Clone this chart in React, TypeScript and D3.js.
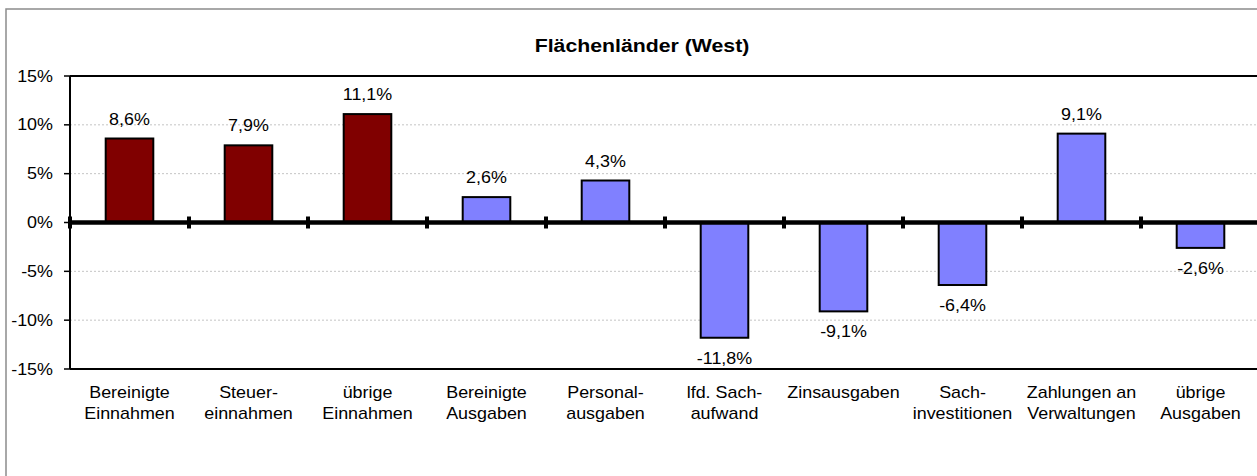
import { useEffect, useRef } from "react";
import * as d3 from "d3";

const categories = [
  "Bereinigte\nEinnahmen",
  "Steuer-\neinnahmen",
  "übrige\nEinnahmen",
  "Bereinigte\nAusgaben",
  "Personal-\nausgaben",
  "lfd. Sach-\naufwand",
  "Zinsausgaben",
  "Sach-\ninvestitionen",
  "Zahlungen an\nVerwaltungen",
  "übrige\nAusgaben",
];
const values = [8.6, 7.9, 11.1, 2.6, 4.3, -11.8, -9.1, -6.4, 9.1, -2.6];
const isRevenue = [true, true, true, false, false, false, false, false, false, false];
const yTicks = [15, 10, 5, 0, -5, -10, -15];
const title = "Flächenländer (West)";

const W = 1257;
const H = 476;
const FONT = "'Liberation Sans', Arial, sans-serif";
const SX = 1.12; // the original export is a bit stretched horizontally

export default function App() {
  const svgRef = useRef<SVGSVGElement | null>(null);

  useEffect(() => {
    const svg = d3.select(svgRef.current);
    svg.selectAll("*").remove();

    const left = 70;
    const step = 119;
    const x = d3
      .scaleBand()
      .domain(categories)
      .range([left, left + step * categories.length])
      .paddingInner(0.6)
      .paddingOuter(0.3);
    const y = d3.scaleLinear().domain([-15, 15]).range([369, 76]);
    const fmt = (v: number) => String(v).replace(".", ",") + "%";

    // outer chart frame (cut off on the right and bottom)
    svg
      .append("rect")
      .attr("x", 6)
      .attr("y", 9)
      .attr("width", W + 20)
      .attr("height", H + 20)
      .attr("fill", "white")
      .attr("stroke", "#8c8c8c")
      .attr("stroke-width", 1.5);

    svg
      .append("text")
      .attr("transform", `translate(642,52) scale(${SX},1)`)
      .attr("text-anchor", "middle")
      .attr("font-family", FONT)
      .attr("font-size", 19)
      .attr("font-weight", "bold")
      .text(title);

    // gridlines
    svg
      .append("g")
      .selectAll("line")
      .data(yTicks.filter((t) => t !== 0 && Math.abs(t) !== 15))
      .join("line")
      .attr("x1", left)
      .attr("x2", W + 10)
      .attr("y1", (d) => y(d))
      .attr("y2", (d) => y(d))
      .attr("stroke", "#c4c4c4")
      .attr("stroke-width", 1)
      .attr("stroke-dasharray", "2,2");

    // plot frame top/bottom and y axis
    svg
      .append("g")
      .selectAll("line")
      .data([15, -15])
      .join("line")
      .attr("x1", left)
      .attr("x2", W + 10)
      .attr("y1", (d) => y(d))
      .attr("y2", (d) => y(d))
      .attr("stroke", "black")
      .attr("stroke-width", 2);

    const yAxis = svg.append("g");
    yAxis
      .append("line")
      .attr("x1", left)
      .attr("x2", left)
      .attr("y1", y(15))
      .attr("y2", y(-15))
      .attr("stroke", "black")
      .attr("stroke-width", 2);
    yAxis
      .selectAll("line.tick")
      .data(yTicks)
      .join("line")
      .attr("class", "tick")
      .attr("x1", left - 6)
      .attr("x2", left)
      .attr("y1", (d) => y(d))
      .attr("y2", (d) => y(d))
      .attr("stroke", "black")
      .attr("stroke-width", 1.5);
    yAxis
      .selectAll("text")
      .data(yTicks)
      .join("text")
      .attr("transform", (d) => `translate(53,${y(d) + 5.5}) scale(${SX},1)`)
      .attr("text-anchor", "end")
      .attr("font-family", FONT)
      .attr("font-size", 16)
      .text((d) => d + "%");

    // bars
    svg
      .append("g")
      .selectAll("rect")
      .data(values)
      .join("rect")
      .attr("x", (_, i) => x(categories[i])!)
      .attr("width", x.bandwidth())
      .attr("y", (d) => y(Math.max(0, d)))
      .attr("height", (d) => Math.abs(y(d) - y(0)))
      .attr("fill", (_, i) => (isRevenue[i] ? "#800000" : "#8080ff"))
      .attr("stroke", "black")
      .attr("stroke-width", 2);

    // value labels
    svg
      .append("g")
      .selectAll("text")
      .data(values)
      .join("text")
      .attr("transform", (d, i) => {
        const cx = x(categories[i])! + x.bandwidth() / 2;
        const ty = d >= 0 ? y(d) - 14 : y(d) + 26;
        return `translate(${cx},${ty}) scale(${SX},1)`;
      })
      .attr("text-anchor", "middle")
      .attr("font-family", FONT)
      .attr("font-size", 16)
      .text((d) => fmt(d));

    // zero axis with cross ticks between categories
    const zero = svg.append("g");
    zero
      .append("line")
      .attr("x1", left)
      .attr("x2", W + 10)
      .attr("y1", y(0))
      .attr("y2", y(0))
      .attr("stroke", "black")
      .attr("stroke-width", 4.5);
    zero
      .selectAll("line.tick")
      .data(d3.range(categories.length + 1))
      .join("line")
      .attr("class", "tick")
      .attr("x1", (i) => left + step * i)
      .attr("x2", (i) => left + step * i)
      .attr("y1", y(0) - 6)
      .attr("y2", y(0) + 6)
      .attr("stroke", "black")
      .attr("stroke-width", 4);

    // category labels
    const cat = svg
      .append("g")
      .selectAll("text")
      .data(categories)
      .join("text")
      .attr("transform", (d) => `translate(${x(d)! + x.bandwidth() / 2},398) scale(${SX},1)`)
      .attr("text-anchor", "middle")
      .attr("font-family", FONT)
      .attr("font-size", 16);
    cat
      .selectAll("tspan")
      .data((d) => d.split("\n"))
      .join("tspan")
      .attr("x", 0)
      .attr("dy", (_, i) => (i === 0 ? 0 : 21))
      .text((d) => d);
  }, []);

  return (
    <svg
      ref={svgRef}
      width={W}
      height={H}
      style={{ position: "absolute", left: 0, top: 0, background: "white" }}
    />
  );
}
